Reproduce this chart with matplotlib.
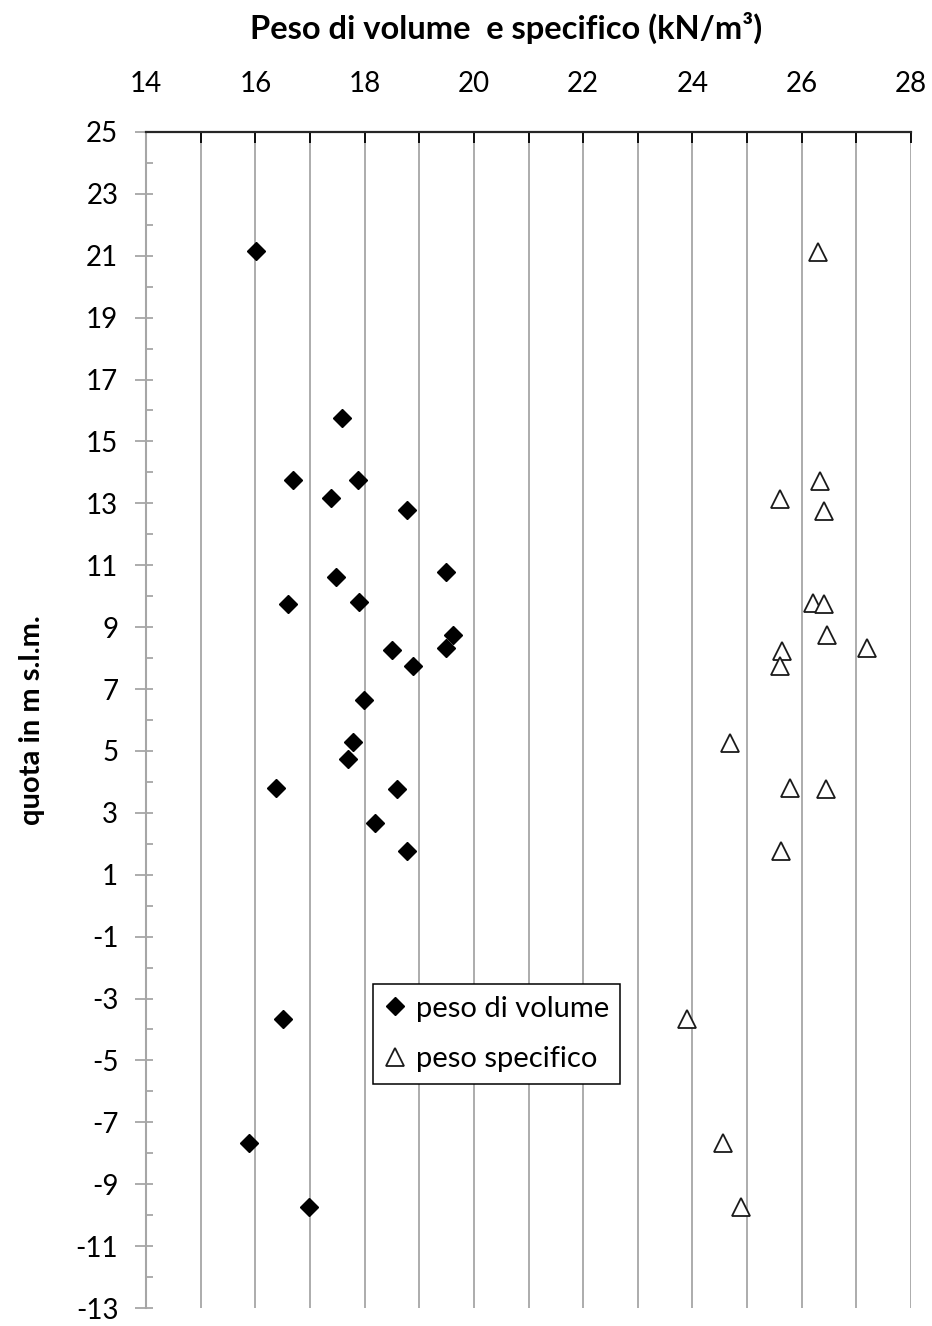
import matplotlib
matplotlib.use("Agg")
import matplotlib.pyplot as plt
from matplotlib.ticker import MultipleLocator

plt.rcParams['font.family'] = ['Lato', 'DejaVu Sans']
plt.rcParams['axes.unicode_minus'] = False

# peso di volume (kN/m3) vs quota (m s.l.m.)
vol_gamma = [16.01, 17.59, 16.69, 17.88, 17.39, 18.78, 17.48, 19.49, 16.60, 17.89,
             19.61, 19.49, 18.50, 18.88, 17.99, 17.79, 17.70, 16.38, 18.59, 18.19,
             18.78, 16.51, 15.885, 16.99]
vol_quota = [21.15, 15.76, 13.76, 13.76, 13.17, 12.79, 10.63, 10.77, 9.76, 9.80,
             8.74, 8.34, 8.26, 7.76, 6.65, 5.29, 4.74, 3.80, 3.77, 2.67,
             1.77, -3.66, -7.66, -9.74]

# peso specifico (kN/m3) vs quota (m s.l.m.)
spec_gamma = [26.30, 26.34, 25.60, 26.40, 26.20, 26.40, 26.46, 27.20, 25.63, 25.60,
              24.69, 25.79, 26.45, 25.62, 23.90, 24.56, 24.89]
spec_quota = [21.12, 13.73, 13.14, 12.76, 9.79, 9.74, 8.73, 8.34, 8.24, 7.75,
              5.26, 3.80, 3.77, 1.77, -3.67, -7.66, -9.75]

x_ticks = [14, 16, 18, 20, 22, 24, 26, 28]
y_ticks = list(range(-13, 26, 2))

fig = plt.figure(figsize=(9.32, 13.26), dpi=100)
ax = fig.add_axes([0.1567, 0.01357, 0.9775 - 0.1567, 0.9005 - 0.01357])

ax.set_xlim(14, 28)
ax.set_ylim(-13, 25)

ax.set_xticks(x_ticks)
ax.xaxis.set_minor_locator(MultipleLocator(1))
ax.set_yticks(y_ticks)
ax.yaxis.set_minor_locator(MultipleLocator(1))
ax.yaxis.remove_overlapping_locs = False

grid_c = '#a6a6a6'
ax.grid(True, which='both', axis='x', color=grid_c, lw=1.3, zorder=0)
ax.set_axisbelow(True)

# x axis on top, ticks pointing inward
ax.xaxis.tick_top()
ax.xaxis.set_label_position('top')
ax.tick_params(axis='x', which='both', direction='in', length=8, width=1.3,
               color='black', top=True, bottom=False, labelsize=20, pad=25)
# y axis: majors outward, minors inward (crossing ticks at majors)
ax.tick_params(axis='y', which='major', direction='out', length=8, width=1.3,
               color=grid_c, labelsize=20, pad=12)
ax.tick_params(axis='y', which='minor', direction='in', length=5, width=1.3,
               color=grid_c)

for s in ['right', 'bottom']:
    ax.spines[s].set_visible(False)
ax.spines['top'].set_color('#262626')
ax.spines['top'].set_linewidth(1.6)
ax.spines['left'].set_color(grid_c)
ax.spines['left'].set_linewidth(1.5)

ax.plot(vol_gamma, vol_quota, ls='none', marker='D', ms=9.6, color='black',
        label='peso di volume', zorder=3, clip_on=False)
ax.plot(spec_gamma, spec_quota, ls='none', marker='^', ms=12.5, mfc='white',
        mec='#1a1a1a', mew=1.3, label='peso specifico', zorder=3, clip_on=False)

ax.set_xlabel('Peso di volume  e specifico (kN/m³)', fontsize=23.5,
              fontweight='bold', labelpad=23, x=0.471)
ax.set_ylabel('quota in m s.l.m.', fontsize=21, fontweight='bold', labelpad=22)

leg = ax.legend(loc='upper left', bbox_to_anchor=(0.297, 0.2755), fontsize=21,
                frameon=True, fancybox=False, edgecolor='black', framealpha=1,
                handlelength=0.7, handletextpad=0.35, borderpad=0.4,
                labelspacing=0.85, borderaxespad=0)
leg.get_frame().set_linewidth(1.1)

fig.savefig('out.png', dpi=100)
